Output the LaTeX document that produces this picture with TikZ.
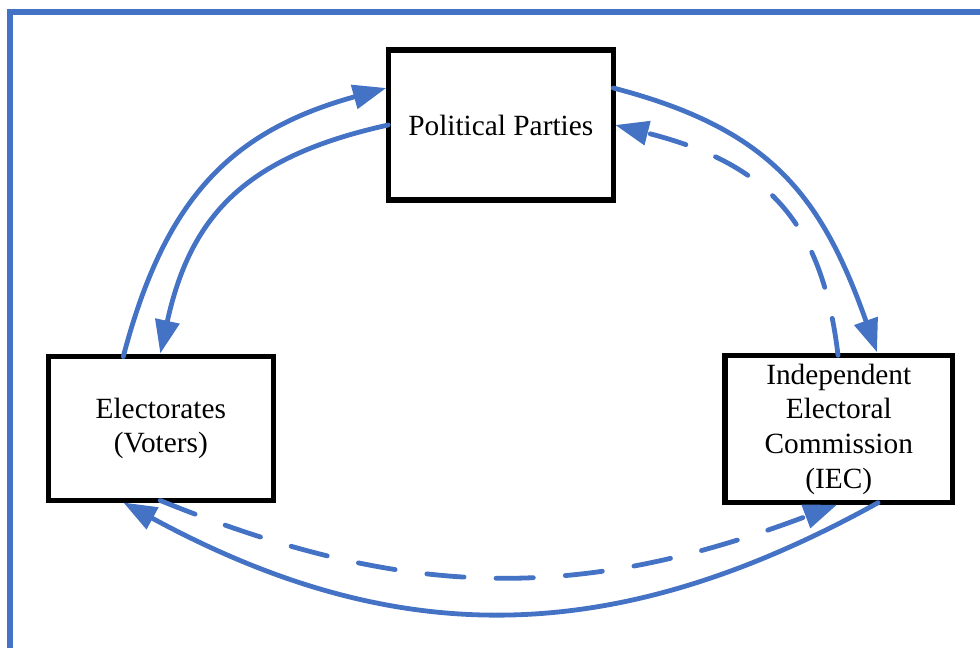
\documentclass[tikz,border=0pt]{standalone}
\usepackage{fontspec}
\setmainfont{Liberation Serif}
\usetikzlibrary{arrows.meta,calc}
\definecolor{lineblue}{HTML}{4472C4}
\begin{document}
\begin{tikzpicture}[x=0.75pt,y=-0.75pt,
  frame/.style={draw=lineblue,line width=4pt},
  box/.style={draw=black,line width=4.1pt,inner sep=0pt,outer sep=0pt,align=center,
    font=\fontsize{22pt}{26pt}\selectfont},
  link/.style={draw=lineblue,line width=3.6pt,line cap=round,
    -{Triangle[length=25pt,width=18pt]}},
  dashlink/.style={link,dash pattern=on 28pt off 24pt}]
\useasboundingbox (0,0) rectangle (980,648);
\draw[frame] (10,648) -- (10,12) -- (980,12);

\node[box,minimum width=168.75pt,minimum height=112.5pt] (pp) at (500.75,125) {Political Parties};
\node[box,minimum width=168.75pt,minimum height=108pt] (el) at (160.8,428.5) {Electorates\\(Voters)};
\node[box,minimum width=170.6pt,minimum height=110.6pt] (iec) at (838.75,429) {Independent\\Electoral\\Commission\\(IEC)};

% endpoints
\coordinate (elA) at ($(el.north west)+(75,0)$);
\coordinate (ppA) at ($(pp.west)+(-2,-37)$);
\coordinate (ppB) at (pp.west);
\coordinate (elB) at ($(el.north west)+(112,-3)$);
\coordinate (ppC) at ($(pp.east)+(0,-37)$);
\coordinate (iecC) at ($(iec.north west)+(152,-3)$);
\coordinate (iecD) at ($(iec.north west)+(113,0)$);
\coordinate (ppD) at ($(pp.east)+(2,0)$);
\coordinate (iecE) at ($(iec.south west)+(153,0)$);
\coordinate (elE) at ($(el.south west)+(75,2)$);
\coordinate (elF) at ($(el.south west)+(112,0)$);
\coordinate (iecF) at ($(iec.south west)+(112,2)$);

\draw[link] (elA) .. controls (165,198) and (231,131) .. (ppA);
\draw[link] (ppB) .. controls (248,156) and (191,213) .. (elB);
\draw[link] (ppC) .. controls (769,128.5) and (821,194) .. (iecC);
\draw[dashlink] (iecD) .. controls (822,220) and (766,163) .. (ppD);
\draw[link] (iecE) .. controls (612,650) and (395,650) .. (elE);
\draw[dashlink] (elF) .. controls (409,601.5) and (580,601.5) .. (iecF);
\end{tikzpicture}
\end{document}
